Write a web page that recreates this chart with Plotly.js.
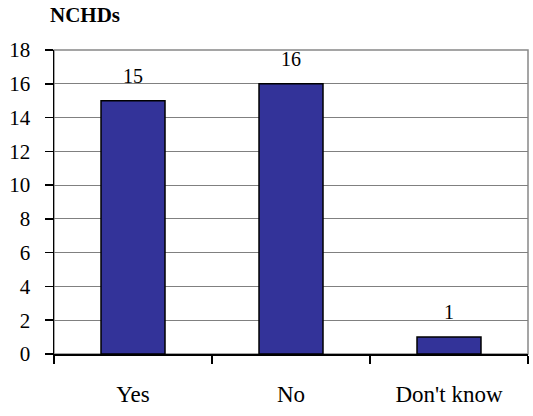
<!DOCTYPE html>
<html>
<head>
<meta charset="utf-8">
<script src="https://cdn.plot.ly/plotly-3.0.1.min.js"></script>
<style>html,body{margin:0;padding:0;background:#fff;}#chart{width:533px;height:416px;}</style>
</head>
<body>
<div id="chart"></div>
<script>
const categories = ["Yes", "No", "Don't know"];
const values = [15, 16, 1];
const yTicks = [0, 2, 4, 6, 8, 10, 12, 14, 16, 18];
const chartTitle = "NCHDs";

const serif = "'Liberation Serif', 'Times New Roman', serif";

const trace = {
  type: "bar",
  x: categories,
  y: values,
  marker: { color: "#333399", line: { color: "#000000", width: 1.5 } },
  hoverinfo: "none"
};

const annotations = categories.map((c, i) => ({
  x: c, y: values[i], xref: "x", yref: "y",
  text: String(values[i]), showarrow: false,
  yanchor: "middle", yshift: 25,
  font: { family: serif, size: 20, color: "#000" }
}));

const layout = {
  width: 533, height: 416,
  margin: { l: 54, r: 5, t: 50, b: 62 },
  paper_bgcolor: "#fff", plot_bgcolor: "#fff",
  showlegend: false,
  bargap: 0.595,
  title: {
    text: "<b>" + chartTitle + "</b>",
    x: 50 / 533, xref: "container", xanchor: "left",
    y: 1 - 15 / 416, yref: "container", yanchor: "middle",
    font: { family: serif, size: 21, color: "#000" }
  },
  xaxis: {
    type: "category",
    range: [-0.5, 2.5],
    showline: true, linecolor: "#000", linewidth: 1.5,
    ticks: "outside", ticklen: 8, tickcolor: "#000", tickwidth: 1.5,
    tickson: "boundaries",
    showgrid: false, zeroline: false,
    tickfont: { family: serif, size: 23, color: "#000" },
    ticklabelstandoff: 19
  },
  yaxis: {
    range: [0, 18],
    tickvals: yTicks,
    ticktext: yTicks.map(String),
    showline: true, linecolor: "#000", linewidth: 1.5,
    ticks: "outside", ticklen: 8, tickcolor: "#000", tickwidth: 1.5,
    showgrid: true, gridcolor: "#808080", gridwidth: 1,
    zeroline: false,
    tickfont: { family: serif, size: 21, color: "#000" },
    ticklabelstandoff: 10
  },
  shapes: [{
    type: "rect", xref: "paper", yref: "paper", x0: 0, x1: 1, y0: 0, y1: 1,
    line: { color: "#888888", width: 1.5 }, layer: "below"
  }],
  annotations: annotations
};

Plotly.newPlot("chart", [trace], layout, { displayModeBar: false, staticPlot: true });
</script>
</body>
</html>
